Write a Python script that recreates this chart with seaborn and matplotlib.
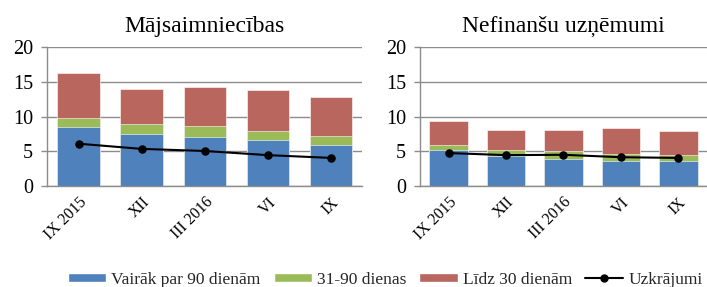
import matplotlib
matplotlib.use("Agg")
import matplotlib.pyplot as plt
import seaborn as sns
import numpy as np
import pandas as pd
from matplotlib.lines import Line2D
from matplotlib.patches import Patch

categories = ["IX 2015", "XII", "III 2016", "VI", "IX"]
series_names = ["Vairāk par 90 dienām", "31-90 dienas", "Līdz 30 dienām", "Uzkrājumi"]
titles = ["Mājsaimniecības", "Nefinanšu uzņēmumi"]

# Households
hh_over90 = [8.55, 7.55, 7.1, 6.65, 5.9]
hh_31_90 = [1.3, 1.4, 1.55, 1.35, 1.3]
hh_upto30 = [6.45, 5.0, 5.6, 5.85, 5.65]
hh_prov = [6.1, 5.35, 5.05, 4.45, 4.05]

# Non-financial corporations
nfc_over90 = [5.25, 4.35, 3.95, 3.6, 3.6]
nfc_31_90 = [0.7, 0.85, 1.1, 1.0, 0.9]
nfc_upto30 = [3.45, 2.9, 3.05, 3.7, 3.45]
nfc_prov = [4.75, 4.45, 4.5, 4.15, 4.05]

colors = ["#4F81BD", "#9BBB59", "#B9665F"]
grid_c = "#8C8C8C"

sns.set_theme(style="white")
plt.rcParams["font.family"] = ["Liberation Serif", "DejaVu Serif"]

fig = plt.figure(figsize=(7.07, 2.87), dpi=100)
ax1 = fig.add_axes([0.0665, 0.352, 0.446, 0.483])
ax2 = fig.add_axes([0.594, 0.352, 0.406, 0.483])

def draw(ax, over90, mid, upto30, prov, title):
    df = pd.DataFrame({"cat": categories, "a": over90, "b": mid, "c": upto30, "p": prov})
    df["ab"] = df["a"] + df["b"]
    df["abc"] = df["ab"] + df["c"]
    for col, c in [("abc", colors[2]), ("ab", colors[1]), ("a", colors[0])]:
        sns.barplot(data=df, x="cat", y=col, color=c, saturation=1, width=0.67,
                    edgecolor="white", linewidth=0.4, ax=ax, zorder=2)
    sns.pointplot(data=df, x="cat", y="p", color="black", markers="o",
                  markersize=5, linewidth=1.5, ax=ax, zorder=5)
    ax.set_ylim(0, 20)
    ax.set_xlim(-0.5, 4.5)
    ax.set_yticks([0, 5, 10, 15, 20])
    ax.yaxis.grid(True, color=grid_c, linewidth=1.0, zorder=0)
    ax.set_axisbelow(True)
    ax.set_xlabel("")
    ax.set_ylabel("")
    for s in ["top", "right"]:
        ax.spines[s].set_visible(False)
    for s in ["left", "bottom"]:
        ax.spines[s].set_color(grid_c)
        ax.spines[s].set_linewidth(1.0)
    ax.set_xticks(range(len(categories)))
    ax.set_xticklabels(categories, rotation=45, ha="right", rotation_mode="anchor",
                       fontsize=11.5, color="black")
    ax.tick_params(axis="x", which="major", length=0, pad=6)
    ax.set_xticks(np.arange(-0.5, 5.0, 1.0), minor=True)
    ax.tick_params(axis="x", which="minor", length=4, color=grid_c, width=1.0, direction="out")
    ax.tick_params(axis="y", length=4, color=grid_c, width=1.0, direction="out",
                   labelsize=14.5, labelcolor="black", pad=6, left=True)
    ax.set_title(title, fontsize=17, pad=11, color="black")

draw(ax1, hh_over90, hh_31_90, hh_upto30, hh_prov, titles[0])
draw(ax2, nfc_over90, nfc_31_90, nfc_upto30, nfc_prov, titles[1])

handles = [Patch(facecolor=colors[0]), Patch(facecolor=colors[1]), Patch(facecolor=colors[2]),
           Line2D([0], [0], color="black", marker="o", markersize=5, linewidth=1.5)]
fig.legend(handles, series_names, loc="center", bbox_to_anchor=(0.545, 0.025),
           ncol=4, frameon=False, fontsize=12.5, handlelength=2.2, handleheight=0.46,
           handletextpad=0.3, columnspacing=0.75, borderaxespad=0, borderpad=0)

fig.savefig("out.png", dpi=100)
